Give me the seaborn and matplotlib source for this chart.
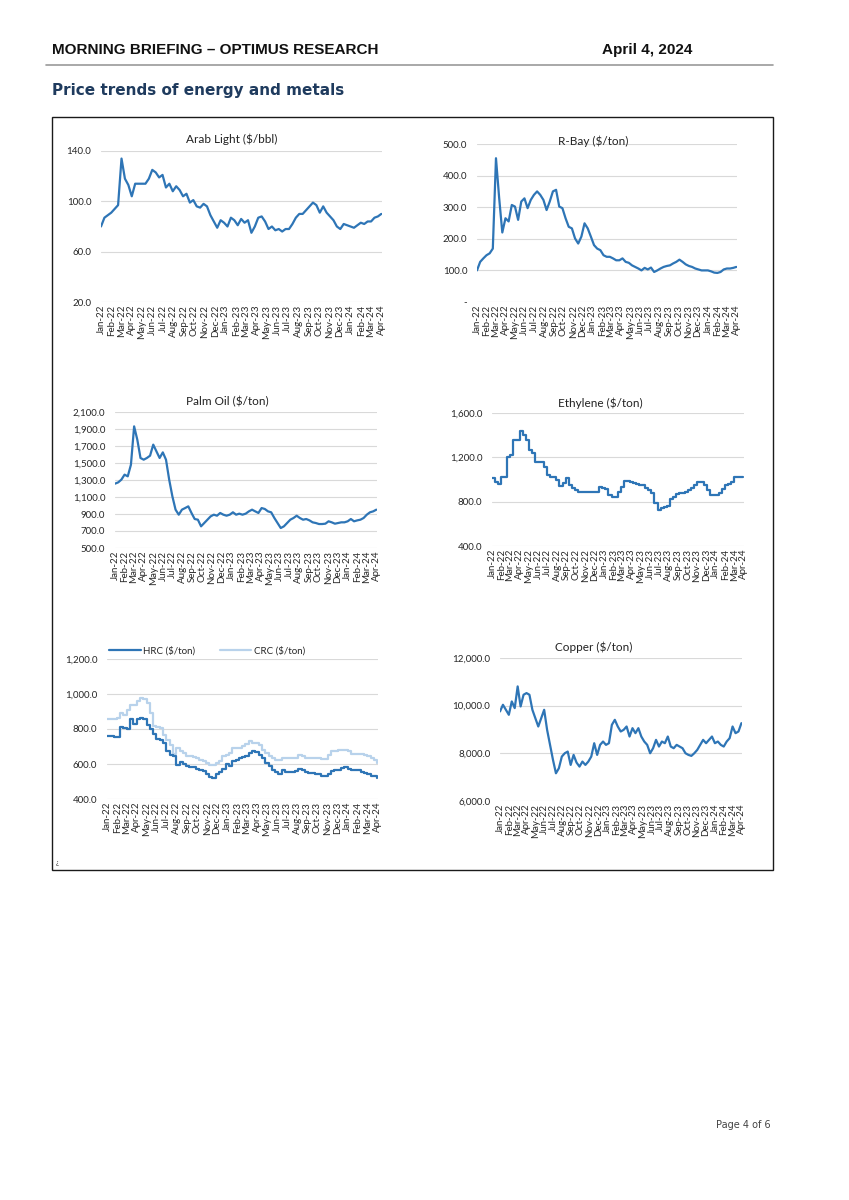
import numpy as np
import pandas as pd
import matplotlib
matplotlib.use("Agg")
import matplotlib.pyplot as plt
import matplotlib.dates as mdates
import seaborn as sns

# 10-day sampling, Jan-22 .. Mar-24 (83 points)
dates = pd.date_range("2022-01-01", periods=83, freq="10D")

arab_light = [80, 87, 89, 91, 94, 97, 134, 118, 113, 104,
              114, 114, 114, 114, 118, 125, 123, 119, 121, 111,
              114, 108, 112, 109, 104, 106, 99, 101, 96, 95,
              98, 96, 89, 84, 79, 85, 83, 80, 87, 85,
              81, 86, 83, 85, 75, 80, 87, 88, 84, 78,
              80, 77, 78, 76, 78, 78, 82, 87, 90, 90,
              93, 96, 99, 97, 91, 96, 91, 88, 85, 80,
              78, 82, 81, 80, 79, 81, 83, 82, 84, 84,
              87, 88, 90]

r_bay = [100, 127, 138, 148, 154, 169, 455, 330, 220, 265,
         255, 307, 302, 260, 318, 328, 297, 323, 339, 350,
         339, 323, 291, 318, 350, 355, 302, 297, 265, 238,
         233, 201, 185, 207, 249, 233, 207, 180, 169, 164,
         148, 143, 143, 138, 132, 132, 138, 127, 124, 116,
         111, 106, 100, 108, 103, 109, 95, 100, 106, 111,
         114, 116, 122, 127, 134, 127, 119, 114, 111, 106,
         103, 100, 100, 100, 97, 93, 92, 95, 103, 106,
         106, 108, 111]

palm_oil = [1257, 1272, 1304, 1363, 1343, 1480, 1931, 1774, 1559, 1539,
            1559, 1586, 1716, 1637, 1559, 1625, 1539, 1304, 1108, 951,
            892, 951, 970, 990, 912, 841, 833, 755, 794, 833,
            872, 892, 880, 912, 892, 880, 892, 920, 892, 904,
            892, 904, 931, 951, 931, 912, 970, 959, 931, 920,
            853, 794, 735, 755, 794, 833, 853, 880, 853, 833,
            841, 825, 802, 794, 782, 782, 786, 814, 802, 786,
            794, 802, 802, 814, 841, 814, 825, 833, 853, 892,
            920, 931, 951]

ethylene = [1017, 980, 959, 1026, 1026, 1201, 1222, 1358, 1358, 1434,
            1404, 1358, 1267, 1237, 1162, 1162, 1162, 1110, 1041, 1026,
            1026, 995, 941, 965, 1010, 950, 920, 905, 890, 890,
            890, 890, 890, 890, 890, 929, 920, 914, 859, 844,
            844, 890, 935, 989, 989, 977, 965, 959, 950, 950,
            920, 905, 874, 784, 729, 747, 753, 760, 820, 844,
            865, 874, 880, 890, 905, 920, 950, 980, 980, 950,
            905, 859, 859, 859, 880, 911, 950, 959, 980, 1020,
            1020, 1020, 1020]

hrc = [762, 758, 754, 754, 811, 806, 800, 857, 830, 857,
       861, 857, 825, 800, 773, 743, 739, 720, 672, 653,
       644, 596, 609, 602, 590, 583, 581, 571, 568, 558,
       545, 524, 520, 545, 552, 571, 602, 590, 615, 625,
       634, 638, 648, 663, 672, 667, 653, 634, 606, 590,
       568, 552, 545, 564, 552, 552, 552, 558, 571, 564,
       552, 549, 549, 545, 545, 533, 533, 545, 558, 568,
       568, 577, 581, 571, 568, 568, 564, 552, 549, 543,
       533, 530, 520]

crc = [857, 857, 857, 863, 891, 882, 910, 939, 939, 958,
       977, 971, 949, 891, 815, 811, 806, 768, 739, 710,
       659, 691, 672, 663, 648, 644, 640, 634, 625, 615,
       606, 596, 596, 606, 615, 648, 653, 663, 691, 691,
       691, 701, 716, 730, 720, 720, 710, 682, 663, 648,
       634, 625, 625, 634, 634, 634, 634, 634, 653, 644,
       634, 634, 634, 634, 634, 629, 629, 653, 672, 672,
       678, 678, 678, 672, 659, 659, 659, 659, 653, 644,
       634, 621, 606]

copper = [9757, 10037, 9827, 9617, 10177, 9897, 10808, 9967, 10458, 10528,
          10458, 9827, 9476, 9126, 9476, 9827, 8986, 8355, 7724, 7163,
          7374, 7864, 8004, 8074, 7514, 7934, 7612, 7444, 7654, 7514,
          7654, 7864, 8425, 7934, 8355, 8495, 8355, 8425, 9196, 9406,
          9126, 8916, 8986, 9126, 8705, 9056, 8846, 9056, 8705, 8495,
          8355, 8004, 8215, 8565, 8285, 8495, 8425, 8705, 8285, 8215,
          8355, 8285, 8215, 8004, 7934, 7893, 8004, 8145, 8355, 8565,
          8425, 8565, 8705, 8425, 8495, 8355, 8285, 8495, 8635, 9126,
          8846, 8916, 9266]

BLUE = "#2E75B6"
LIGHT = "#B8D2EB"
GRID = "#D9D9D9"
W, H = 849, 1200

sns.set_style("white")
plt.rcParams["font.family"] = ["Lato", "DejaVu Sans"]

fig = plt.figure(figsize=(W / 100, H / 100), dpi=100)


def px_rect(l, r, t, b):
    return [l / W, 1 - b / H, (r - l) / W, (b - t) / H]


def style_axis(ax, lo, hi, step, zero_dash=False):
    ax.set_ylim(lo, hi)
    ax.set_yticks(np.arange(lo, hi + step / 2, step))
    if zero_dash:
        ax.yaxis.set_major_formatter(lambda v, p: "-" if v == 0 else f"{v:,.1f}")
    else:
        ax.yaxis.set_major_formatter(lambda v, p: f"{v:,.1f}")
    ax.set_xlim(pd.Timestamp("2022-01-01"), pd.Timestamp("2024-04-02"))
    ax.xaxis.set_major_locator(mdates.MonthLocator())
    ax.xaxis.set_major_formatter(mdates.DateFormatter("%b-%y"))
    ax.tick_params(axis="x", rotation=90, labelsize=7, length=0, pad=2)
    ax.tick_params(axis="y", labelsize=7, length=0, pad=7)
    ax.grid(axis="y", color=GRID, linewidth=0.8)
    ax.grid(axis="x", visible=False)
    for s in ax.spines.values():
        s.set_visible(False)
    ax.set_xlabel("")
    ax.set_ylabel("")


charts = [
    ("Arab Light ($/bbl)", arab_light, (101, 382, 151, 302), (20, 140, 40), (232, 139)),
    ("R-Bay ($/ton)", r_bay, (477, 737, 144, 302), (0, 500, 100), (593, 141)),
    ("Palm Oil ($/ton)", palm_oil, (115, 377, 412, 548), (500, 2100, 200), (227, 402)),
    ("Ethylene ($/ton)", ethylene, (492, 744, 413, 546), (400, 1600, 400), (600, 403)),
    ("Copper ($/ton)", copper, (500, 742, 658, 801), (6000, 12000, 2000), (594, 647)),
]

for title, vals, rect, (lo, hi, step), (tx, ty) in charts:
    ax = fig.add_axes(px_rect(*rect))
    kw = {"drawstyle": "steps-post"} if title.startswith("Ethylene") else {}
    sns.lineplot(x=dates, y=vals, ax=ax, color=BLUE, linewidth=1.6, **kw)
    style_axis(ax, lo, hi, step, zero_dash=(lo == 0))
    fig.text(tx / W, 1 - ty / H, title, ha="center", va="center", fontsize=8.5, color="#222222")

# HRC / CRC
ax = fig.add_axes(px_rect(107, 378, 659, 799))
steel = pd.DataFrame({"date": list(dates) * 2,
                      "price": hrc + crc,
                      "series": ["HRC ($/ton)"] * len(hrc) + ["CRC ($/ton)"] * len(crc)})
sns.lineplot(data=steel, x="date", y="price", hue="series",
             palette={"HRC ($/ton)": BLUE, "CRC ($/ton)": LIGHT},
             hue_order=["CRC ($/ton)", "HRC ($/ton)"],
             linewidth=1.6, drawstyle="steps-post", ax=ax)
style_axis(ax, 400, 1200, 200)
handles, labels = ax.get_legend_handles_labels()
ax.legend(handles[::-1], labels[::-1], ncol=2, frameon=False, fontsize=7,
          loc="center", bbox_to_anchor=(0.37, 1.06), handlelength=3.2,
          columnspacing=2.5, handletextpad=0.3)

# page decorations
head = ["Liberation Sans", "DejaVu Sans"]
fig.text(52 / W, 1 - 50 / H, "MORNING BRIEFING – OPTIMUS RESEARCH", family=head,
         fontsize=11, fontweight="bold", va="center", ha="left", color="#111111")
fig.text(602 / W, 1 - 50 / H, "April 4, 2024", family=head,
         fontsize=11, fontweight="bold", va="center", ha="left", color="#111111")
fig.add_artist(plt.Line2D([46 / W, 773 / W], [1 - 65 / H] * 2, color="#9A9A9A", linewidth=1.2))
fig.text(52 / W, 1 - 91 / H, "Price trends of energy and metals", family=["DejaVu Sans"],
         fontsize=11, fontweight="bold", va="center", ha="left", color="#1F3B5E")
fig.add_artist(plt.Rectangle((52 / W, 1 - 870 / H), (773 - 52) / W, (870 - 117) / H,
                             fill=False, edgecolor="#1A1A1A", linewidth=1.0))
fig.text(56 / W, 1 - 862 / H, "¿", fontsize=5, va="center", ha="left", color="#333333")
fig.text(771 / W, 1 - 1125 / H, "Page 4 of 6", family=["DejaVu Sans"],
         fontsize=7, va="center", ha="right", color="#444444")

fig.savefig("out.png", dpi=100)
